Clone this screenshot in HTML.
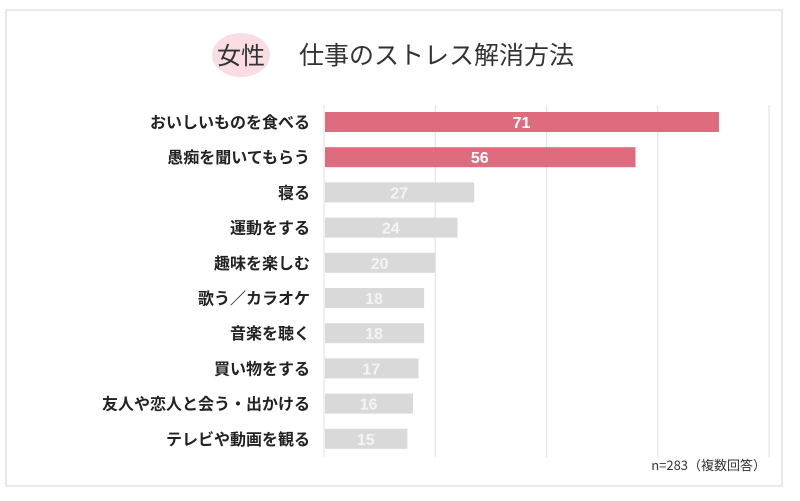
<!DOCTYPE html>
<html><head><meta charset="utf-8"><style>
body{margin:0;width:800px;height:496px;background:#fff;font-family:"Liberation Sans","Noto Sans CJK JP",sans-serif;overflow:hidden}
</style></head><body>
<svg width="800" height="496" xmlns="http://www.w3.org/2000/svg">
<rect x="6" y="10" width="776" height="476" fill="#fff" stroke="#e0e0e0" stroke-width="1.5"/>
<ellipse cx="241" cy="55" rx="29" ry="22" fill="#f9dde3"/>
<text x="241" y="64" text-anchor="middle" font-size="24" fill="#333" font-family="Noto Sans CJK JP, sans-serif">女性</text>
<text x="299" y="64" font-size="25" fill="#333" font-family="Noto Sans CJK JP, sans-serif">仕事のストレス解消方法</text>
<g id="grid"></g>
<g id="bars"></g>
<text x="766" y="470" text-anchor="end" font-size="13" fill="#333" font-family="Noto Sans CJK JP, sans-serif">n=283（複数回答）</text>
</svg>
<script>
const categories=["おいしいものを食べる","愚痴を聞いてもらう","寝る","運動をする","趣味を楽しむ","歌う／カラオケ","音楽を聴く","買い物をする","友人や恋人と会う・出かける","テレビや動画を観る"];
const values=[71,56,27,24,20,18,18,17,16,15];
const ticks=[0,20,40,60,80];
const NS="http://www.w3.org/2000/svg";
const x0=324,xMax=769,yTop=105,yBottom=457,step=35.2,bh=20;
const xs=v=>x0+(xMax-x0)*v/80;
const yc=i=>122+i*step;
const grid=document.getElementById('grid'),bars=document.getElementById('bars');
ticks.forEach(t=>{const l=document.createElementNS(NS,'line');


l.setAttribute('x1',xs(t));l.setAttribute('x2',xs(t));l.setAttribute('y1',yTop);l.setAttribute('y2',yBottom);
l.setAttribute('stroke','#e4e4e4');l.setAttribute('stroke-width','1.2');grid.appendChild(l);});
categories.forEach((c,i)=>{const v=values[i];const hi=i<2;
const r=document.createElementNS(NS,'rect');


r.setAttribute('x',x0+1);r.setAttribute('y',yc(i)-bh/2);r.setAttribute('width',xs(v)-x0-1);r.setAttribute('height',bh);
r.setAttribute('fill',hi?'#df6b7e':'#d9d9d9');bars.appendChild(r);
const t=document.createElementNS(NS,'text');


t.setAttribute('x',(x0+xs(v))/2);t.setAttribute('y',yc(i)+6);t.setAttribute('text-anchor','middle');
t.setAttribute('font-size','16');t.setAttribute('font-weight','bold');t.setAttribute('fill',hi?'#fff':'#f4f4f4');
t.textContent=v;bars.appendChild(t);
const lb=document.createElementNS(NS,'text');


lb.setAttribute('x',310);lb.setAttribute('y',yc(i)+6);lb.setAttribute('text-anchor','end');
lb.setAttribute('font-size','16');lb.setAttribute('font-weight','bold');lb.setAttribute('fill','#222');
lb.setAttribute('font-family','Noto Sans CJK JP, sans-serif');
lb.textContent=c;bars.appendChild(lb);});
</script>
</body></html>
